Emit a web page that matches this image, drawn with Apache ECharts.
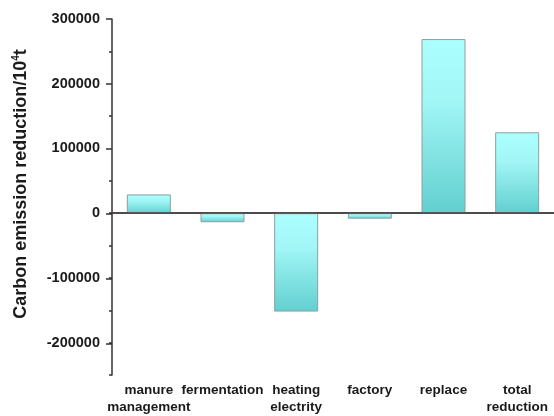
<!DOCTYPE html>
<html>
<head>
<meta charset="utf-8">
<script src="https://cdn.jsdelivr.net/npm/echarts@6/dist/echarts.min.js"></script>
<style>
  html, body { margin: 0; padding: 0; background: #fff; }
  #chart { width: 554px; height: 416px; }
</style>
</head>
<body>
<div id="chart"></div>
<script>
// Categories on the x axis (two-line labels use \n)
const categories = ['manure\nmanagement', 'fermentation', 'heating\nelectrity', 'factory', 'replace', 'total\nreduction'];
// Carbon emission reduction per stage (10^4 t)
const reductionValues = [29000, -14000, -152000, -8500, 269000, 125000];
// Y axis range and labelled ticks
const yMin = -250000;
const yMax = 300000;
const majorTickValues = [-200000, -100000, 0, 100000, 200000, 300000];

const chart = echarts.init(document.getElementById('chart'));

const axisColor = '#333';
const fontFamily = 'Liberation Sans, Arial, sans-serif';
const labelFont = { fontFamily: fontFamily, fontWeight: 'bold', color: '#1a1a1a' };

chart.setOption({
  animation: false,
  grid: [
    // main plotting area
    { left: 112, top: 19, width: 444, height: 357 },
    // helper grid that only carries the long major ticks (300000 .. -200000)
    { left: 112, top: 19, width: 444, height: 325 }
  ],
  xAxis: [
    {
      type: 'category',
      gridIndex: 0,
      data: categories,
      axisLine: { lineStyle: { color: axisColor, width: 1.5 } },
      axisTick: { alignWithLabel: true, length: 6, lineStyle: { color: axisColor, width: 1.5 } },
      axisLabel: Object.assign({ interval: 0, fontSize: 13.5, lineHeight: 17, margin: 7 }, labelFont)
    },
    { type: 'category', gridIndex: 1, show: false, data: categories }
  ],
  yAxis: [
    {
      type: 'value',
      gridIndex: 0,
      min: yMin,
      max: yMax,
      interval: 50000,
      splitLine: { show: false },
      axisLine: { show: true, lineStyle: { color: axisColor, width: 1.5 } },
      axisTick: { show: true, length: 3, lineStyle: { color: axisColor, width: 1.5 } },
      axisLabel: Object.assign({
        fontSize: 14.5,
        margin: 12,
        formatter: function (v) { return majorTickValues.indexOf(v) >= 0 ? String(v) : ''; }
      }, labelFont)
    },
    {
      type: 'value',
      gridIndex: 1,
      min: majorTickValues[0],
      max: majorTickValues[majorTickValues.length - 1],
      interval: 100000,
      splitLine: { show: false },
      axisLine: { show: false },
      axisTick: { show: true, length: 6, lineStyle: { color: axisColor, width: 1.5 } },
      axisLabel: { show: false }
    }
  ],
  graphic: [
    {
      type: 'text',
      x: 21,
      y: 184,
      rotation: Math.PI / 2,
      style: {
        text: 'Carbon emission reduction/10{sup|4}t',
        rich: {
          sup: { fontSize: 10, fontWeight: 'bold', fontFamily: fontFamily, verticalAlign: 'top', padding: [0, 0, 9, 0], fill: '#1a1a1a' }
        },
        fontSize: 18,
        fontWeight: 'bold',
        fontFamily: fontFamily,
        fill: '#1a1a1a',
        align: 'center',
        verticalAlign: 'middle'
      }
    }
  ],
  series: [
    {
      type: 'bar',
      xAxisIndex: 0,
      yAxisIndex: 0,
      data: reductionValues,
      barWidth: 44,
      itemStyle: {
        color: new echarts.graphic.LinearGradient(0, 0, 0, 1, [
          { offset: 0, color: '#abffff' },
          { offset: 0.35, color: '#a2f6f6' },
          { offset: 1, color: '#62cfcf' }
        ]),
        borderColor: '#8f9f9f',
        borderWidth: 1
      },
      markLine: {
        silent: true,
        symbol: ['none', 'none'],
        label: { show: false },
        lineStyle: { color: '#444', width: 1.5, type: 'solid' },
        data: [{ yAxis: 0 }]
      }
    }
  ]
});
</script>
</body>
</html>
